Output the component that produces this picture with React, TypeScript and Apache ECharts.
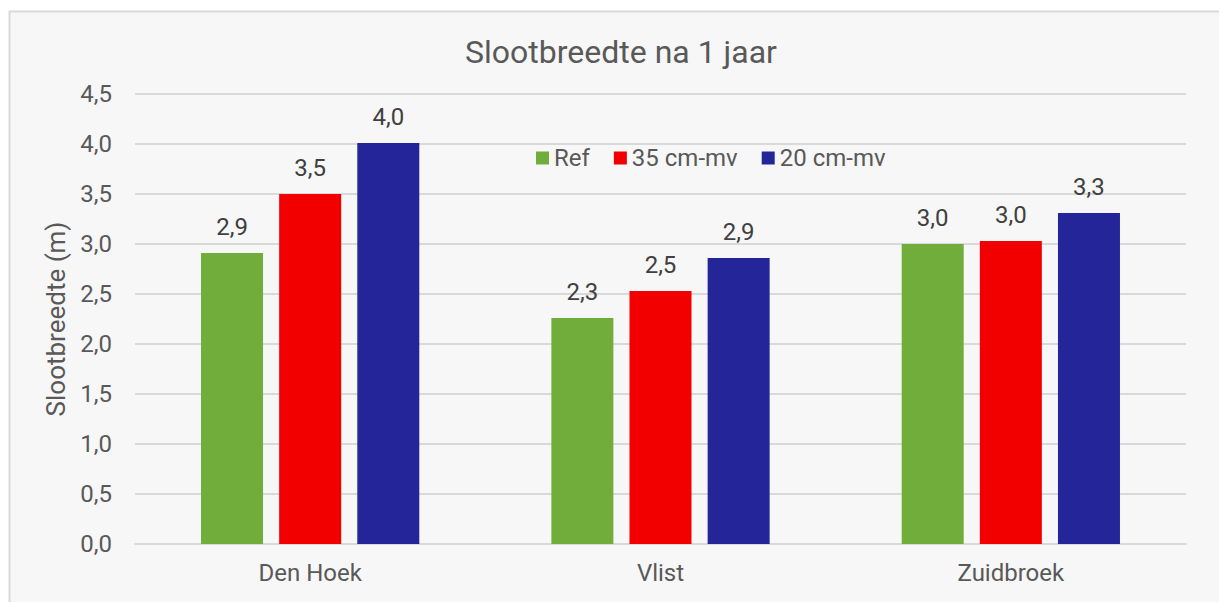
import React, { useEffect, useRef } from "react";
import * as echarts from "echarts";

const categories = ["Den Hoek", "Vlist", "Zuidbroek"];
const seriesNames = ["Ref", "35 cm-mv", "20 cm-mv"];
const refValues = [2.91, 2.26, 3.0];
const cm35Values = [3.5, 2.53, 3.03];
const cm20Values = [4.01, 2.86, 3.31];
const yTicks = [0, 0.5, 1, 1.5, 2, 2.5, 3, 3.5, 4, 4.5];
const colors = ["#70AD3B", "#F20000", "#25259A"];

const fmt = (v: number) => v.toFixed(1).replace(".", ",");

export default function App() {
  const ref = useRef<HTMLDivElement>(null);
  useEffect(() => {
    if (!ref.current) return;
    const chart = echarts.init(ref.current, undefined, { renderer: "svg" });
    const font = "Roboto";
    const mk = (name: string, data: number[], color: string) => ({
      name,
      type: "bar",
      data,
      barWidth: "17.7%",
      barGap: "26%",
      itemStyle: { color },
      label: {
        show: true,
        position: "top",
        distance: 14,
        formatter: (p: any) => fmt(p.value),
        fontFamily: font,
        fontSize: 24,
        color: "#404040",
      },
    });
    chart.setOption({
      animation: false,
      backgroundColor: "transparent",
      textStyle: { fontFamily: font },
      graphic: [
        {
          type: "rect",
          z: -10,
          silent: true,
          shape: { x: 9.5, y: 11.5, width: 1300, height: 700 },
          style: { fill: "#F7F7F7", stroke: "#D9D9D9", lineWidth: 2 },
        },
      ],
      title: {
        text: "Slootbreedte na 1 jaar",
        left: 460,
        top: 31,
        textStyle: { fontFamily: font, fontSize: 32, fontWeight: "normal", color: "#595959" },
      },
      legend: {
        data: seriesNames,
        left: 531,
        top: 141,
        itemWidth: 13,
        itemHeight: 13,
        itemGap: 24,
        icon: "rect",
        textStyle: { fontFamily: font, fontSize: 24, color: "#595959" },
      },
      grid: { left: 135, right: 33, top: 94, bottom: 58 },
      xAxis: {
        type: "category",
        data: categories,
        axisLine: { lineStyle: { color: "#D9D9D9", width: 2 } },
        axisTick: { show: false },
        axisLabel: { fontFamily: font, fontSize: 24, color: "#595959", margin: 17 },
      },
      yAxis: {
        type: "value",
        min: yTicks[0],
        max: yTicks[yTicks.length - 1],
        interval: 0.5,
        name: "Slootbreedte (m)",
        nameLocation: "middle",
        nameGap: 63,
        nameTextStyle: { fontFamily: font, fontSize: 26, color: "#595959" },
        axisLine: { show: false },
        axisTick: { show: false },
        splitLine: { lineStyle: { color: "#D9D9D9", width: 2 } },
        axisLabel: {
          fontFamily: font,
          fontSize: 24,
          color: "#595959",
          margin: 23,
          formatter: (v: number) => fmt(v),
        },
      },
      series: [
        mk(seriesNames[0], refValues, colors[0]),
        mk(seriesNames[1], cm35Values, colors[1]),
        mk(seriesNames[2], cm20Values, colors[2]),
      ],
    });
    return () => chart.dispose();
  }, []);
  return (
    <div
      style={{
        position: "fixed",
        left: 0,
        top: 0,
        width: 1219,
        height: 602,
        overflow: "hidden",
        background: "#fff",
      }}
    >
      <div ref={ref} style={{ width: 1219, height: 602 }} />
    </div>
  );
}
